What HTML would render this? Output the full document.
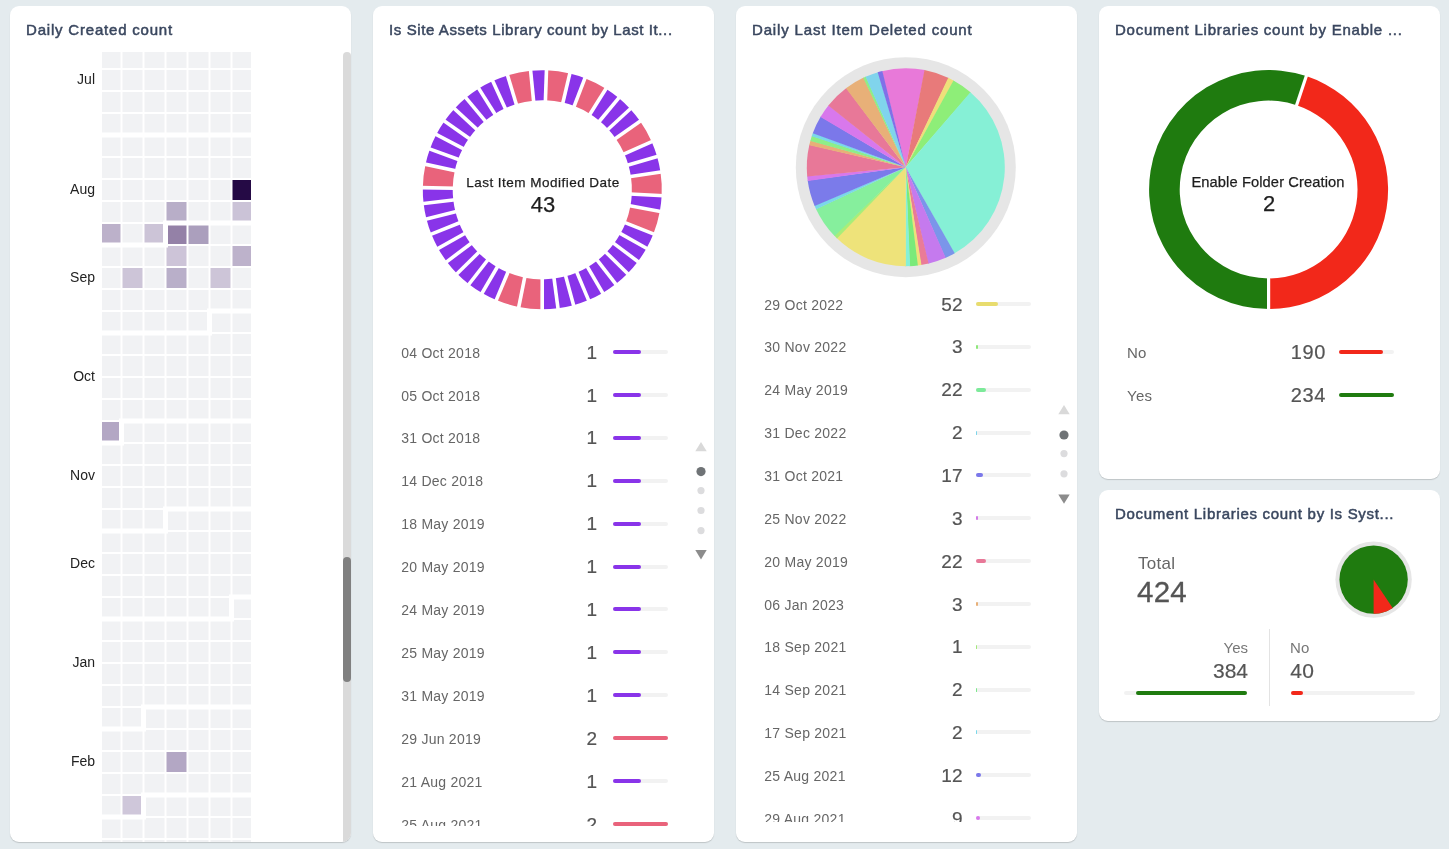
<!DOCTYPE html>
<html><head><meta charset="utf-8"><style>
*{margin:0;padding:0;box-sizing:border-box}
html,body{width:1449px;height:849px;overflow:hidden;background:#e4ebee;font-family:"Liberation Sans",sans-serif}
.abs{position:absolute}
.card{position:absolute;background:#fff;border-radius:9px;box-shadow:0 1px 1px rgba(0,0,0,0.17);overflow:hidden}
.title{position:absolute;font-size:15px;color:#3a475f;white-space:nowrap;line-height:20px;letter-spacing:0.55px;-webkit-text-stroke:0.5px #3a475f}
.clip{position:absolute;overflow:hidden}
.ld{position:absolute;white-space:nowrap;line-height:20px;color:#666;letter-spacing:0.25px}
.ln{position:absolute;width:80px;text-align:right;white-space:nowrap;line-height:24px;color:#555;-webkit-text-stroke:0.2px #555}
.bt{position:absolute;height:4px;border-radius:2px;background:#f2f2f2}
.bf{position:absolute;height:4px;border-radius:2px}
.ml{position:absolute;right:256px;width:60px;text-align:right;font-size:14px;line-height:20px;color:#222}
.ctr{position:absolute;text-align:center;white-space:nowrap;color:#1e1e1e;-webkit-text-stroke:0.25px #1e1e1e}
</style></head><body><div style="position:absolute;left:0;top:0;width:1449px;height:849px;will-change:transform">
<div class="card" style="left:10px;top:6px;width:341px;height:836px">
<div class="title" style="left:16px;top:14px;letter-spacing:0.8px">Daily Created count</div>
<div class="clip" style="left:0;top:46px;width:341px;height:790px">
<svg class="abs" width="341" height="790" viewBox="10 52 341 790" style="left:0;top:0"><rect x="100.5" y="26" width="20" height="20" fill="#f1f2f4"/><rect x="122.5" y="26" width="20" height="20" fill="#f1f2f4"/><rect x="144.5" y="26" width="20" height="20" fill="#f1f2f4"/><rect x="166.5" y="26" width="20" height="20" fill="#f1f2f4"/><rect x="188.5" y="26" width="20" height="20" fill="#f1f2f4"/><rect x="210.5" y="26" width="20" height="20" fill="#f1f2f4"/><rect x="232.5" y="26" width="20" height="20" fill="#f1f2f4"/><rect x="100.5" y="48" width="20" height="20" fill="#f1f2f4"/><rect x="122.5" y="48" width="20" height="20" fill="#f1f2f4"/><rect x="144.5" y="48" width="20" height="20" fill="#f1f2f4"/><rect x="166.5" y="48" width="20" height="20" fill="#f1f2f4"/><rect x="188.5" y="48" width="20" height="20" fill="#f1f2f4"/><rect x="210.5" y="48" width="20" height="20" fill="#f1f2f4"/><rect x="232.5" y="48" width="20" height="20" fill="#f1f2f4"/><rect x="100.5" y="70" width="20" height="20" fill="#f1f2f4"/><rect x="122.5" y="70" width="20" height="20" fill="#f1f2f4"/><rect x="144.5" y="70" width="20" height="20" fill="#f1f2f4"/><rect x="166.5" y="70" width="20" height="20" fill="#f1f2f4"/><rect x="188.5" y="70" width="20" height="20" fill="#f1f2f4"/><rect x="210.5" y="70" width="20" height="20" fill="#f1f2f4"/><rect x="232.5" y="70" width="20" height="20" fill="#f1f2f4"/><rect x="100.5" y="92" width="20" height="20" fill="#f1f2f4"/><rect x="122.5" y="92" width="20" height="20" fill="#f1f2f4"/><rect x="144.5" y="92" width="20" height="20" fill="#f1f2f4"/><rect x="166.5" y="92" width="20" height="20" fill="#f1f2f4"/><rect x="188.5" y="92" width="20" height="20" fill="#f1f2f4"/><rect x="210.5" y="92" width="20" height="20" fill="#f1f2f4"/><rect x="232.5" y="92" width="20" height="20" fill="#f1f2f4"/><rect x="100.5" y="114" width="20" height="20" fill="#f1f2f4"/><rect x="122.5" y="114" width="20" height="20" fill="#f1f2f4"/><rect x="144.5" y="114" width="20" height="20" fill="#f1f2f4"/><rect x="166.5" y="114" width="20" height="20" fill="#f1f2f4"/><rect x="188.5" y="114" width="20" height="20" fill="#f1f2f4"/><rect x="210.5" y="114" width="20" height="20" fill="#f1f2f4"/><rect x="232.5" y="114" width="20" height="20" fill="#f1f2f4"/><rect x="100.5" y="136" width="20" height="20" fill="#f1f2f4"/><rect x="122.5" y="136" width="20" height="20" fill="#f1f2f4"/><rect x="144.5" y="136" width="20" height="20" fill="#f1f2f4"/><rect x="166.5" y="136" width="20" height="20" fill="#f1f2f4"/><rect x="188.5" y="136" width="20" height="20" fill="#f1f2f4"/><rect x="210.5" y="136" width="20" height="20" fill="#f1f2f4"/><rect x="232.5" y="136" width="20" height="20" fill="#f1f2f4"/><rect x="100.5" y="158" width="20" height="20" fill="#f1f2f4"/><rect x="122.5" y="158" width="20" height="20" fill="#f1f2f4"/><rect x="144.5" y="158" width="20" height="20" fill="#f1f2f4"/><rect x="166.5" y="158" width="20" height="20" fill="#f1f2f4"/><rect x="188.5" y="158" width="20" height="20" fill="#f1f2f4"/><rect x="210.5" y="158" width="20" height="20" fill="#f1f2f4"/><rect x="232.5" y="158" width="20" height="20" fill="#f1f2f4"/><rect x="100.5" y="180" width="20" height="20" fill="#f1f2f4"/><rect x="122.5" y="180" width="20" height="20" fill="#f1f2f4"/><rect x="144.5" y="180" width="20" height="20" fill="#f1f2f4"/><rect x="166.5" y="180" width="20" height="20" fill="#f1f2f4"/><rect x="188.5" y="180" width="20" height="20" fill="#f1f2f4"/><rect x="210.5" y="180" width="20" height="20" fill="#f1f2f4"/><rect x="232.5" y="180" width="20" height="20" fill="#250a45"/><rect x="100.5" y="202" width="20" height="20" fill="#f1f2f4"/><rect x="122.5" y="202" width="20" height="20" fill="#f1f2f4"/><rect x="144.5" y="202" width="20" height="20" fill="#f1f2f4"/><rect x="166.5" y="202" width="20" height="20" fill="#b8aec8"/><rect x="188.5" y="202" width="20" height="20" fill="#f1f2f4"/><rect x="210.5" y="202" width="20" height="20" fill="#f1f2f4"/><rect x="232.5" y="202" width="20" height="20" fill="#cbc3d7"/><rect x="100.5" y="224" width="20" height="20" fill="#bcb1ca"/><rect x="122.5" y="224" width="20" height="20" fill="#f1f2f4"/><rect x="144.5" y="224" width="20" height="20" fill="#ccc4d7"/><rect x="166.5" y="224" width="20" height="20" fill="#9481a7"/><rect x="188.5" y="224" width="20" height="20" fill="#ab9fbd"/><rect x="210.5" y="224" width="20" height="20" fill="#f1f2f4"/><rect x="232.5" y="224" width="20" height="20" fill="#f1f2f4"/><rect x="100.5" y="246" width="20" height="20" fill="#f1f2f4"/><rect x="122.5" y="246" width="20" height="20" fill="#f1f2f4"/><rect x="144.5" y="246" width="20" height="20" fill="#f1f2f4"/><rect x="166.5" y="246" width="20" height="20" fill="#cdc4d8"/><rect x="188.5" y="246" width="20" height="20" fill="#f1f2f4"/><rect x="210.5" y="246" width="20" height="20" fill="#f1f2f4"/><rect x="232.5" y="246" width="20" height="20" fill="#bdb2cb"/><rect x="100.5" y="268" width="20" height="20" fill="#f1f2f4"/><rect x="122.5" y="268" width="20" height="20" fill="#cdc5d8"/><rect x="144.5" y="268" width="20" height="20" fill="#f1f2f4"/><rect x="166.5" y="268" width="20" height="20" fill="#b9afc9"/><rect x="188.5" y="268" width="20" height="20" fill="#f1f2f4"/><rect x="210.5" y="268" width="20" height="20" fill="#cdc5d8"/><rect x="232.5" y="268" width="20" height="20" fill="#f1f2f4"/><rect x="100.5" y="290" width="20" height="20" fill="#f1f2f4"/><rect x="122.5" y="290" width="20" height="20" fill="#f1f2f4"/><rect x="144.5" y="290" width="20" height="20" fill="#f1f2f4"/><rect x="166.5" y="290" width="20" height="20" fill="#f1f2f4"/><rect x="188.5" y="290" width="20" height="20" fill="#f1f2f4"/><rect x="210.5" y="290" width="20" height="20" fill="#f1f2f4"/><rect x="232.5" y="290" width="20" height="20" fill="#f1f2f4"/><rect x="100.5" y="312" width="20" height="20" fill="#f1f2f4"/><rect x="122.5" y="312" width="20" height="20" fill="#f1f2f4"/><rect x="144.5" y="312" width="20" height="20" fill="#f1f2f4"/><rect x="166.5" y="312" width="20" height="20" fill="#f1f2f4"/><rect x="188.5" y="312" width="20" height="20" fill="#f1f2f4"/><rect x="210.5" y="312" width="20" height="20" fill="#f1f2f4"/><rect x="232.5" y="312" width="20" height="20" fill="#f1f2f4"/><rect x="100.5" y="334" width="20" height="20" fill="#f1f2f4"/><rect x="122.5" y="334" width="20" height="20" fill="#f1f2f4"/><rect x="144.5" y="334" width="20" height="20" fill="#f1f2f4"/><rect x="166.5" y="334" width="20" height="20" fill="#f1f2f4"/><rect x="188.5" y="334" width="20" height="20" fill="#f1f2f4"/><rect x="210.5" y="334" width="20" height="20" fill="#f1f2f4"/><rect x="232.5" y="334" width="20" height="20" fill="#f1f2f4"/><rect x="100.5" y="356" width="20" height="20" fill="#f1f2f4"/><rect x="122.5" y="356" width="20" height="20" fill="#f1f2f4"/><rect x="144.5" y="356" width="20" height="20" fill="#f1f2f4"/><rect x="166.5" y="356" width="20" height="20" fill="#f1f2f4"/><rect x="188.5" y="356" width="20" height="20" fill="#f1f2f4"/><rect x="210.5" y="356" width="20" height="20" fill="#f1f2f4"/><rect x="232.5" y="356" width="20" height="20" fill="#f1f2f4"/><rect x="100.5" y="378" width="20" height="20" fill="#f1f2f4"/><rect x="122.5" y="378" width="20" height="20" fill="#f1f2f4"/><rect x="144.5" y="378" width="20" height="20" fill="#f1f2f4"/><rect x="166.5" y="378" width="20" height="20" fill="#f1f2f4"/><rect x="188.5" y="378" width="20" height="20" fill="#f1f2f4"/><rect x="210.5" y="378" width="20" height="20" fill="#f1f2f4"/><rect x="232.5" y="378" width="20" height="20" fill="#f1f2f4"/><rect x="100.5" y="400" width="20" height="20" fill="#f1f2f4"/><rect x="122.5" y="400" width="20" height="20" fill="#f1f2f4"/><rect x="144.5" y="400" width="20" height="20" fill="#f1f2f4"/><rect x="166.5" y="400" width="20" height="20" fill="#f1f2f4"/><rect x="188.5" y="400" width="20" height="20" fill="#f1f2f4"/><rect x="210.5" y="400" width="20" height="20" fill="#f1f2f4"/><rect x="232.5" y="400" width="20" height="20" fill="#f1f2f4"/><rect x="100.5" y="422" width="20" height="20" fill="#b3a7c4"/><rect x="122.5" y="422" width="20" height="20" fill="#f1f2f4"/><rect x="144.5" y="422" width="20" height="20" fill="#f1f2f4"/><rect x="166.5" y="422" width="20" height="20" fill="#f1f2f4"/><rect x="188.5" y="422" width="20" height="20" fill="#f1f2f4"/><rect x="210.5" y="422" width="20" height="20" fill="#f1f2f4"/><rect x="232.5" y="422" width="20" height="20" fill="#f1f2f4"/><rect x="100.5" y="444" width="20" height="20" fill="#f1f2f4"/><rect x="122.5" y="444" width="20" height="20" fill="#f1f2f4"/><rect x="144.5" y="444" width="20" height="20" fill="#f1f2f4"/><rect x="166.5" y="444" width="20" height="20" fill="#f1f2f4"/><rect x="188.5" y="444" width="20" height="20" fill="#f1f2f4"/><rect x="210.5" y="444" width="20" height="20" fill="#f1f2f4"/><rect x="232.5" y="444" width="20" height="20" fill="#f1f2f4"/><rect x="100.5" y="466" width="20" height="20" fill="#f1f2f4"/><rect x="122.5" y="466" width="20" height="20" fill="#f1f2f4"/><rect x="144.5" y="466" width="20" height="20" fill="#f1f2f4"/><rect x="166.5" y="466" width="20" height="20" fill="#f1f2f4"/><rect x="188.5" y="466" width="20" height="20" fill="#f1f2f4"/><rect x="210.5" y="466" width="20" height="20" fill="#f1f2f4"/><rect x="232.5" y="466" width="20" height="20" fill="#f1f2f4"/><rect x="100.5" y="488" width="20" height="20" fill="#f1f2f4"/><rect x="122.5" y="488" width="20" height="20" fill="#f1f2f4"/><rect x="144.5" y="488" width="20" height="20" fill="#f1f2f4"/><rect x="166.5" y="488" width="20" height="20" fill="#f1f2f4"/><rect x="188.5" y="488" width="20" height="20" fill="#f1f2f4"/><rect x="210.5" y="488" width="20" height="20" fill="#f1f2f4"/><rect x="232.5" y="488" width="20" height="20" fill="#f1f2f4"/><rect x="100.5" y="510" width="20" height="20" fill="#f1f2f4"/><rect x="122.5" y="510" width="20" height="20" fill="#f1f2f4"/><rect x="144.5" y="510" width="20" height="20" fill="#f1f2f4"/><rect x="166.5" y="510" width="20" height="20" fill="#f1f2f4"/><rect x="188.5" y="510" width="20" height="20" fill="#f1f2f4"/><rect x="210.5" y="510" width="20" height="20" fill="#f1f2f4"/><rect x="232.5" y="510" width="20" height="20" fill="#f1f2f4"/><rect x="100.5" y="532" width="20" height="20" fill="#f1f2f4"/><rect x="122.5" y="532" width="20" height="20" fill="#f1f2f4"/><rect x="144.5" y="532" width="20" height="20" fill="#f1f2f4"/><rect x="166.5" y="532" width="20" height="20" fill="#f1f2f4"/><rect x="188.5" y="532" width="20" height="20" fill="#f1f2f4"/><rect x="210.5" y="532" width="20" height="20" fill="#f1f2f4"/><rect x="232.5" y="532" width="20" height="20" fill="#f1f2f4"/><rect x="100.5" y="554" width="20" height="20" fill="#f1f2f4"/><rect x="122.5" y="554" width="20" height="20" fill="#f1f2f4"/><rect x="144.5" y="554" width="20" height="20" fill="#f1f2f4"/><rect x="166.5" y="554" width="20" height="20" fill="#f1f2f4"/><rect x="188.5" y="554" width="20" height="20" fill="#f1f2f4"/><rect x="210.5" y="554" width="20" height="20" fill="#f1f2f4"/><rect x="232.5" y="554" width="20" height="20" fill="#f1f2f4"/><rect x="100.5" y="576" width="20" height="20" fill="#f1f2f4"/><rect x="122.5" y="576" width="20" height="20" fill="#f1f2f4"/><rect x="144.5" y="576" width="20" height="20" fill="#f1f2f4"/><rect x="166.5" y="576" width="20" height="20" fill="#f1f2f4"/><rect x="188.5" y="576" width="20" height="20" fill="#f1f2f4"/><rect x="210.5" y="576" width="20" height="20" fill="#f1f2f4"/><rect x="232.5" y="576" width="20" height="20" fill="#f1f2f4"/><rect x="100.5" y="598" width="20" height="20" fill="#f1f2f4"/><rect x="122.5" y="598" width="20" height="20" fill="#f1f2f4"/><rect x="144.5" y="598" width="20" height="20" fill="#f1f2f4"/><rect x="166.5" y="598" width="20" height="20" fill="#f1f2f4"/><rect x="188.5" y="598" width="20" height="20" fill="#f1f2f4"/><rect x="210.5" y="598" width="20" height="20" fill="#f1f2f4"/><rect x="232.5" y="598" width="20" height="20" fill="#f1f2f4"/><rect x="100.5" y="620" width="20" height="20" fill="#f1f2f4"/><rect x="122.5" y="620" width="20" height="20" fill="#f1f2f4"/><rect x="144.5" y="620" width="20" height="20" fill="#f1f2f4"/><rect x="166.5" y="620" width="20" height="20" fill="#f1f2f4"/><rect x="188.5" y="620" width="20" height="20" fill="#f1f2f4"/><rect x="210.5" y="620" width="20" height="20" fill="#f1f2f4"/><rect x="232.5" y="620" width="20" height="20" fill="#f1f2f4"/><rect x="100.5" y="642" width="20" height="20" fill="#f1f2f4"/><rect x="122.5" y="642" width="20" height="20" fill="#f1f2f4"/><rect x="144.5" y="642" width="20" height="20" fill="#f1f2f4"/><rect x="166.5" y="642" width="20" height="20" fill="#f1f2f4"/><rect x="188.5" y="642" width="20" height="20" fill="#f1f2f4"/><rect x="210.5" y="642" width="20" height="20" fill="#f1f2f4"/><rect x="232.5" y="642" width="20" height="20" fill="#f1f2f4"/><rect x="100.5" y="664" width="20" height="20" fill="#f1f2f4"/><rect x="122.5" y="664" width="20" height="20" fill="#f1f2f4"/><rect x="144.5" y="664" width="20" height="20" fill="#f1f2f4"/><rect x="166.5" y="664" width="20" height="20" fill="#f1f2f4"/><rect x="188.5" y="664" width="20" height="20" fill="#f1f2f4"/><rect x="210.5" y="664" width="20" height="20" fill="#f1f2f4"/><rect x="232.5" y="664" width="20" height="20" fill="#f1f2f4"/><rect x="100.5" y="686" width="20" height="20" fill="#f1f2f4"/><rect x="122.5" y="686" width="20" height="20" fill="#f1f2f4"/><rect x="144.5" y="686" width="20" height="20" fill="#f1f2f4"/><rect x="166.5" y="686" width="20" height="20" fill="#f1f2f4"/><rect x="188.5" y="686" width="20" height="20" fill="#f1f2f4"/><rect x="210.5" y="686" width="20" height="20" fill="#f1f2f4"/><rect x="232.5" y="686" width="20" height="20" fill="#f1f2f4"/><rect x="100.5" y="708" width="20" height="20" fill="#f1f2f4"/><rect x="122.5" y="708" width="20" height="20" fill="#f1f2f4"/><rect x="144.5" y="708" width="20" height="20" fill="#f1f2f4"/><rect x="166.5" y="708" width="20" height="20" fill="#f1f2f4"/><rect x="188.5" y="708" width="20" height="20" fill="#f1f2f4"/><rect x="210.5" y="708" width="20" height="20" fill="#f1f2f4"/><rect x="232.5" y="708" width="20" height="20" fill="#f1f2f4"/><rect x="100.5" y="730" width="20" height="20" fill="#f1f2f4"/><rect x="122.5" y="730" width="20" height="20" fill="#f1f2f4"/><rect x="144.5" y="730" width="20" height="20" fill="#f1f2f4"/><rect x="166.5" y="730" width="20" height="20" fill="#f1f2f4"/><rect x="188.5" y="730" width="20" height="20" fill="#f1f2f4"/><rect x="210.5" y="730" width="20" height="20" fill="#f1f2f4"/><rect x="232.5" y="730" width="20" height="20" fill="#f1f2f4"/><rect x="100.5" y="752" width="20" height="20" fill="#f1f2f4"/><rect x="122.5" y="752" width="20" height="20" fill="#f1f2f4"/><rect x="144.5" y="752" width="20" height="20" fill="#f1f2f4"/><rect x="166.5" y="752" width="20" height="20" fill="#b3a7c4"/><rect x="188.5" y="752" width="20" height="20" fill="#f1f2f4"/><rect x="210.5" y="752" width="20" height="20" fill="#f1f2f4"/><rect x="232.5" y="752" width="20" height="20" fill="#f1f2f4"/><rect x="100.5" y="774" width="20" height="20" fill="#f1f2f4"/><rect x="122.5" y="774" width="20" height="20" fill="#f1f2f4"/><rect x="144.5" y="774" width="20" height="20" fill="#f1f2f4"/><rect x="166.5" y="774" width="20" height="20" fill="#f1f2f4"/><rect x="188.5" y="774" width="20" height="20" fill="#f1f2f4"/><rect x="210.5" y="774" width="20" height="20" fill="#f1f2f4"/><rect x="232.5" y="774" width="20" height="20" fill="#f1f2f4"/><rect x="100.5" y="796" width="20" height="20" fill="#f1f2f4"/><rect x="122.5" y="796" width="20" height="20" fill="#cfc7da"/><rect x="144.5" y="796" width="20" height="20" fill="#f1f2f4"/><rect x="166.5" y="796" width="20" height="20" fill="#f1f2f4"/><rect x="188.5" y="796" width="20" height="20" fill="#f1f2f4"/><rect x="210.5" y="796" width="20" height="20" fill="#f1f2f4"/><rect x="232.5" y="796" width="20" height="20" fill="#f1f2f4"/><rect x="100.5" y="818" width="20" height="20" fill="#f1f2f4"/><rect x="122.5" y="818" width="20" height="20" fill="#f1f2f4"/><rect x="144.5" y="818" width="20" height="20" fill="#f1f2f4"/><rect x="166.5" y="818" width="20" height="20" fill="#f1f2f4"/><rect x="188.5" y="818" width="20" height="20" fill="#f1f2f4"/><rect x="210.5" y="818" width="20" height="20" fill="#f1f2f4"/><rect x="232.5" y="818" width="20" height="20" fill="#f1f2f4"/><rect x="100.5" y="840" width="20" height="20" fill="#f1f2f4"/><rect x="122.5" y="840" width="20" height="20" fill="#f1f2f4"/><rect x="144.5" y="840" width="20" height="20" fill="#f1f2f4"/><rect x="166.5" y="840" width="20" height="20" fill="#f1f2f4"/><rect x="188.5" y="840" width="20" height="20" fill="#f1f2f4"/><rect x="210.5" y="840" width="20" height="20" fill="#f1f2f4"/><rect x="232.5" y="840" width="20" height="20" fill="#f1f2f4"/><path d="M99.5 0V842M253.5 0V842M99.5 135H253.5M99.5 245H165.5V223H253.5M99.5 333H209.5V311H253.5M99.5 443H121.5V421H253.5M99.5 531H165.5V509H253.5M99.5 619H231.5V597H253.5M99.5 729H143.5V707H253.5M99.5 817H143.5V795H253.5" stroke="#fff" stroke-width="5" fill="none" stroke-linejoin="miter"/></svg><div class="ml" style="top:17px">Jul</div><div class="ml" style="top:127px">Aug</div><div class="ml" style="top:215px">Sep</div><div class="ml" style="top:314px">Oct</div><div class="ml" style="top:413px">Nov</div><div class="ml" style="top:501px">Dec</div><div class="ml" style="top:600px">Jan</div><div class="ml" style="top:699px">Feb</div>
</div>
<div class="abs" style="left:333px;top:46px;width:8px;height:800px;background:#dadada;border-radius:4px"></div>
<div class="abs" style="left:333px;top:551px;width:8px;height:125px;background:#808080;border-radius:4px"></div>
</div>
<div class="card" style="left:373px;top:6px;width:341px;height:836px">
<div class="title" style="left:16px;top:14px;letter-spacing:0.6px">Is Site Assets Library count by Last It...</div>
</div>
<div class="card" style="left:736px;top:6px;width:341px;height:836px">
<div class="title" style="left:16px;top:14px;letter-spacing:0.85px">Daily Last Item Deleted count</div>
</div>
<div class="card" style="left:1099px;top:6px;width:341px;height:473px">
<div class="title" style="left:16px;top:14px;letter-spacing:0.77px">Document Libraries count by Enable ...</div>
</div>
<div class="card" style="left:1099px;top:490px;width:341px;height:231px">
<div class="title" style="left:16px;top:14px;letter-spacing:0.7px">Document Libraries count by Is Syst...</div>
</div>
<svg class="abs" width="1449" height="849" style="left:0;top:0"><path d="M546.47 70.37A119.5 119.5 0 0 1 569.79 73.5L562.91 102.6A89.6 89.6 0 0 0 545.43 100.25Z" fill="#e9637b"/><path d="M569.79 73.5A119.5 119.5 0 0 1 584.92 78.16L574.26 106.09A89.6 89.6 0 0 0 562.91 102.6Z" fill="#8934e9"/><path d="M584.92 78.16A119.5 119.5 0 0 1 605.97 88.67L590.04 113.98A89.6 89.6 0 0 0 574.26 106.09Z" fill="#e9637b"/><path d="M605.97 88.67A119.5 119.5 0 0 1 618.78 97.98L599.64 120.95A89.6 89.6 0 0 0 590.04 113.98Z" fill="#8934e9"/><path d="M618.78 97.98A119.5 119.5 0 0 1 630.25 108.9L608.24 129.14A89.6 89.6 0 0 0 599.64 120.95Z" fill="#8934e9"/><path d="M630.25 108.9A119.5 119.5 0 0 1 640.17 121.23L615.68 138.39A89.6 89.6 0 0 0 608.24 129.14Z" fill="#8934e9"/><path d="M640.17 121.23A119.5 119.5 0 0 1 651.71 141.74L624.33 153.76A89.6 89.6 0 0 0 615.68 138.39Z" fill="#e9637b"/><path d="M651.71 141.74A119.5 119.5 0 0 1 657.1 156.62L628.38 164.92A89.6 89.6 0 0 0 624.33 153.76Z" fill="#8934e9"/><path d="M657.1 156.62A119.5 119.5 0 0 1 660.48 172.09L630.91 176.52A89.6 89.6 0 0 0 628.38 164.92Z" fill="#8934e9"/><path d="M660.48 172.09A119.5 119.5 0 0 1 661.66 195.59L631.79 194.14A89.6 89.6 0 0 0 630.91 176.52Z" fill="#e9637b"/><path d="M661.66 195.59A119.5 119.5 0 0 1 659.85 211.32L630.44 205.94A89.6 89.6 0 0 0 631.79 194.14Z" fill="#8934e9"/><path d="M659.85 211.32A119.5 119.5 0 0 1 653.35 233.93L625.57 222.89A89.6 89.6 0 0 0 630.44 205.94Z" fill="#e9637b"/><path d="M653.35 233.93A119.5 119.5 0 0 1 646.54 248.23L620.46 233.61A89.6 89.6 0 0 0 625.57 222.89Z" fill="#8934e9"/><path d="M646.54 248.23A119.5 119.5 0 0 1 637.9 261.5L613.98 243.56A89.6 89.6 0 0 0 620.46 233.61Z" fill="#8934e9"/><path d="M637.9 261.5A119.5 119.5 0 0 1 627.58 273.51L606.25 252.56A89.6 89.6 0 0 0 613.98 243.56Z" fill="#8934e9"/><path d="M627.58 273.51A119.5 119.5 0 0 1 615.77 284.05L597.39 260.47A89.6 89.6 0 0 0 606.25 252.56Z" fill="#8934e9"/><path d="M615.77 284.05A119.5 119.5 0 0 1 602.66 292.93L587.56 267.13A89.6 89.6 0 0 0 597.39 260.47Z" fill="#8934e9"/><path d="M602.66 292.93A119.5 119.5 0 0 1 588.5 300.01L576.94 272.43A89.6 89.6 0 0 0 587.56 267.13Z" fill="#8934e9"/><path d="M588.5 300.01A119.5 119.5 0 0 1 573.52 305.15L565.71 276.29A89.6 89.6 0 0 0 576.94 272.43Z" fill="#8934e9"/><path d="M573.52 305.15A119.5 119.5 0 0 1 557.99 308.26L554.07 278.62A89.6 89.6 0 0 0 565.71 276.29Z" fill="#8934e9"/><path d="M557.99 308.26A119.5 119.5 0 0 1 542.19 309.3L542.22 279.4A89.6 89.6 0 0 0 554.07 278.62Z" fill="#8934e9"/><path d="M542.19 309.3A119.5 119.5 0 0 1 518.78 306.96L524.67 277.65A89.6 89.6 0 0 0 542.22 279.4Z" fill="#e9637b"/><path d="M518.78 306.96A119.5 119.5 0 0 1 496.29 300.09L507.8 272.49A89.6 89.6 0 0 0 524.67 277.65Z" fill="#e9637b"/><path d="M496.29 300.09A119.5 119.5 0 0 1 482.11 293.03L497.17 267.2A89.6 89.6 0 0 0 507.8 272.49Z" fill="#8934e9"/><path d="M482.11 293.03A119.5 119.5 0 0 1 468.99 284.17L487.33 260.56A89.6 89.6 0 0 0 497.17 267.2Z" fill="#8934e9"/><path d="M468.99 284.17A119.5 119.5 0 0 1 457.15 273.65L478.46 252.67A89.6 89.6 0 0 0 487.33 260.56Z" fill="#8934e9"/><path d="M457.15 273.65A119.5 119.5 0 0 1 446.82 261.65L470.71 243.68A89.6 89.6 0 0 0 478.46 252.67Z" fill="#8934e9"/><path d="M446.82 261.65A119.5 119.5 0 0 1 438.15 248.4L464.21 233.74A89.6 89.6 0 0 0 470.71 243.68Z" fill="#8934e9"/><path d="M438.15 248.4A119.5 119.5 0 0 1 431.32 234.12L459.09 223.03A89.6 89.6 0 0 0 464.21 233.74Z" fill="#8934e9"/><path d="M431.32 234.12A119.5 119.5 0 0 1 426.44 219.05L455.43 211.73A89.6 89.6 0 0 0 459.09 223.03Z" fill="#8934e9"/><path d="M426.44 219.05A119.5 119.5 0 0 1 423.59 203.48L453.29 200.05A89.6 89.6 0 0 0 455.43 211.73Z" fill="#8934e9"/><path d="M423.59 203.48A119.5 119.5 0 0 1 422.82 187.66L452.71 188.2A89.6 89.6 0 0 0 453.29 200.05Z" fill="#8934e9"/><path d="M422.82 187.66A119.5 119.5 0 0 1 425.55 164.3L454.76 170.68A89.6 89.6 0 0 0 452.71 188.2Z" fill="#e9637b"/><path d="M425.55 164.3A119.5 119.5 0 0 1 429.95 149.08L458.06 159.27A89.6 89.6 0 0 0 454.76 170.68Z" fill="#8934e9"/><path d="M429.95 149.08A119.5 119.5 0 0 1 436.32 134.59L462.84 148.4A89.6 89.6 0 0 0 458.06 159.27Z" fill="#8934e9"/><path d="M436.32 134.59A119.5 119.5 0 0 1 444.55 121.06L469.01 138.26A89.6 89.6 0 0 0 462.84 148.4Z" fill="#8934e9"/><path d="M444.55 121.06A119.5 119.5 0 0 1 454.5 108.74L476.47 129.02A89.6 89.6 0 0 0 469.01 138.26Z" fill="#8934e9"/><path d="M454.5 108.74A119.5 119.5 0 0 1 465.99 97.84L485.08 120.85A89.6 89.6 0 0 0 476.47 129.02Z" fill="#8934e9"/><path d="M465.99 97.84A119.5 119.5 0 0 1 478.81 88.56L494.7 113.89A89.6 89.6 0 0 0 485.08 120.85Z" fill="#8934e9"/><path d="M478.81 88.56A119.5 119.5 0 0 1 492.76 81.05L505.15 108.26A89.6 89.6 0 0 0 494.7 113.89Z" fill="#8934e9"/><path d="M492.76 81.05A119.5 119.5 0 0 1 507.57 75.46L516.26 104.07A89.6 89.6 0 0 0 505.15 108.26Z" fill="#8934e9"/><path d="M507.57 75.46A119.5 119.5 0 0 1 530.64 70.87L533.56 100.63A89.6 89.6 0 0 0 516.26 104.07Z" fill="#e9637b"/><path d="M530.64 70.87A119.5 119.5 0 0 1 546.47 70.37L545.43 100.25A89.6 89.6 0 0 0 533.56 100.63Z" fill="#8934e9"/><line x1="545.36" y1="102.25" x2="546.54" y2="68.37" stroke="#fff" stroke-width="3.6"/><line x1="562.45" y1="104.55" x2="570.25" y2="71.56" stroke="#fff" stroke-width="3.6"/><line x1="573.54" y1="107.96" x2="585.63" y2="76.29" stroke="#fff" stroke-width="3.6"/><line x1="588.97" y1="115.67" x2="607.03" y2="86.98" stroke="#fff" stroke-width="3.6"/><line x1="598.36" y1="122.49" x2="620.06" y2="96.44" stroke="#fff" stroke-width="3.6"/><line x1="606.77" y1="130.49" x2="631.72" y2="107.54" stroke="#fff" stroke-width="3.6"/><line x1="614.05" y1="139.54" x2="641.81" y2="120.09" stroke="#fff" stroke-width="3.6"/><line x1="622.5" y1="154.57" x2="653.54" y2="140.93" stroke="#fff" stroke-width="3.6"/><line x1="626.46" y1="165.48" x2="659.02" y2="156.07" stroke="#fff" stroke-width="3.6"/><line x1="628.93" y1="176.82" x2="662.46" y2="171.8" stroke="#fff" stroke-width="3.6"/><line x1="629.8" y1="194.04" x2="663.66" y2="195.69" stroke="#fff" stroke-width="3.6"/><line x1="628.47" y1="205.58" x2="661.81" y2="211.68" stroke="#fff" stroke-width="3.6"/><line x1="623.71" y1="222.15" x2="655.21" y2="234.67" stroke="#fff" stroke-width="3.6"/><line x1="618.72" y1="232.63" x2="648.29" y2="249.2" stroke="#fff" stroke-width="3.6"/><line x1="612.38" y1="242.36" x2="639.5" y2="262.7" stroke="#fff" stroke-width="3.6"/><line x1="604.82" y1="251.16" x2="629.01" y2="274.91" stroke="#fff" stroke-width="3.6"/><line x1="596.16" y1="258.89" x2="617" y2="285.63" stroke="#fff" stroke-width="3.6"/><line x1="586.55" y1="265.4" x2="603.67" y2="294.66" stroke="#fff" stroke-width="3.6"/><line x1="576.16" y1="270.59" x2="589.27" y2="301.85" stroke="#fff" stroke-width="3.6"/><line x1="565.19" y1="274.36" x2="574.04" y2="307.08" stroke="#fff" stroke-width="3.6"/><line x1="553.8" y1="276.64" x2="558.26" y2="310.25" stroke="#fff" stroke-width="3.6"/><line x1="542.22" y1="277.4" x2="542.19" y2="311.3" stroke="#fff" stroke-width="3.6"/><line x1="525.06" y1="275.69" x2="518.39" y2="308.92" stroke="#fff" stroke-width="3.6"/><line x1="508.57" y1="270.65" x2="495.52" y2="301.93" stroke="#fff" stroke-width="3.6"/><line x1="498.18" y1="265.48" x2="481.1" y2="294.76" stroke="#fff" stroke-width="3.6"/><line x1="488.56" y1="258.98" x2="467.76" y2="285.75" stroke="#fff" stroke-width="3.6"/><line x1="479.88" y1="251.27" x2="455.73" y2="275.05" stroke="#fff" stroke-width="3.6"/><line x1="472.31" y1="242.47" x2="445.22" y2="262.86" stroke="#fff" stroke-width="3.6"/><line x1="465.96" y1="232.76" x2="436.41" y2="249.38" stroke="#fff" stroke-width="3.6"/><line x1="460.95" y1="222.29" x2="429.46" y2="234.86" stroke="#fff" stroke-width="3.6"/><line x1="457.37" y1="211.24" x2="424.5" y2="219.54" stroke="#fff" stroke-width="3.6"/><line x1="455.28" y1="199.83" x2="421.6" y2="203.71" stroke="#fff" stroke-width="3.6"/><line x1="454.71" y1="188.23" x2="420.82" y2="187.63" stroke="#fff" stroke-width="3.6"/><line x1="456.72" y1="171.1" x2="423.6" y2="163.87" stroke="#fff" stroke-width="3.6"/><line x1="459.94" y1="159.95" x2="428.07" y2="148.4" stroke="#fff" stroke-width="3.6"/><line x1="464.61" y1="149.33" x2="434.55" y2="133.66" stroke="#fff" stroke-width="3.6"/><line x1="470.64" y1="139.41" x2="442.91" y2="119.91" stroke="#fff" stroke-width="3.6"/><line x1="477.94" y1="130.38" x2="453.03" y2="107.38" stroke="#fff" stroke-width="3.6"/><line x1="486.36" y1="122.39" x2="464.71" y2="96.3" stroke="#fff" stroke-width="3.6"/><line x1="495.76" y1="115.58" x2="477.75" y2="86.86" stroke="#fff" stroke-width="3.6"/><line x1="505.98" y1="110.08" x2="491.93" y2="79.23" stroke="#fff" stroke-width="3.6"/><line x1="516.84" y1="105.98" x2="506.99" y2="73.54" stroke="#fff" stroke-width="3.6"/><line x1="533.76" y1="102.62" x2="530.45" y2="68.88" stroke="#fff" stroke-width="3.6"/><circle cx="905.8" cy="167.2" r="110" fill="#e6e6e6"/><path d="M905.8 167.2L881.85 71.14A99 99 0 0 1 925.03 70.09Z" fill="#e879d9"/><path d="M905.8 167.2L924.52 69.99A99 99 0 0 1 948.73 77.99Z" fill="#e87a7a"/><path d="M905.8 167.2L948.26 77.77A99 99 0 0 1 953.95 80.7Z" fill="#eee07a"/><path d="M905.8 167.2L953.49 80.45A99 99 0 0 1 970.82 92.54Z" fill="#8eee78"/><path d="M905.8 167.2L970.42 92.2A99 99 0 0 1 954.25 253.53Z" fill="#86f0d6"/><path d="M905.8 167.2L954.7 253.28A99 99 0 0 1 945.28 257.99Z" fill="#7b95ea"/><path d="M905.8 167.2L945.75 257.78A99 99 0 0 1 928.07 263.66Z" fill="#c57aee"/><path d="M905.8 167.2L928.57 263.54A99 99 0 0 1 920.95 265.03Z" fill="#ea7b98"/><path d="M905.8 167.2L921.46 264.95A99 99 0 0 1 917.35 265.52Z" fill="#eee07a"/><path d="M905.8 167.2L917.87 265.46A99 99 0 0 1 909.6 266.13Z" fill="#7aea7a"/><path d="M905.8 167.2L910.12 266.11A99 99 0 0 1 905.28 266.2Z" fill="#86f0d6"/><path d="M905.8 167.2L905.8 266.2A99 99 0 0 1 836.66 238.05Z" fill="#eee37a"/><path d="M905.8 167.2L837.03 238.41A99 99 0 0 1 834.23 235.6Z" fill="#a8ee78"/><path d="M905.8 167.2L834.59 235.97A99 99 0 0 1 816 208.88Z" fill="#86ef9d"/><path d="M905.8 167.2L816.22 209.35A99 99 0 0 1 814.47 205.4Z" fill="#7bd7ea"/><path d="M905.8 167.2L814.67 205.88A99 99 0 0 1 807.69 180.46Z" fill="#7b7bea"/><path d="M905.8 167.2L807.76 180.98A99 99 0 0 1 807.19 176Z" fill="#d878ec"/><path d="M905.8 167.2L807.24 176.52A99 99 0 0 1 809.38 144.76Z" fill="#e87898"/><path d="M905.8 167.2L809.26 145.27A99 99 0 0 1 810.49 140.41Z" fill="#e8b078"/><path d="M905.8 167.2L810.35 140.91A99 99 0 0 1 811.92 135.79Z" fill="#8eee88"/><path d="M905.8 167.2L811.75 136.28A99 99 0 0 1 812.95 132.85Z" fill="#7bd7ea"/><path d="M905.8 167.2L812.77 133.34A99 99 0 0 1 820.76 116.51Z" fill="#7b78ea"/><path d="M905.8 167.2L820.5 116.95A99 99 0 0 1 828.65 105.17Z" fill="#d878ec"/><path d="M905.8 167.2L828.32 105.57A99 99 0 0 1 846.36 88.03Z" fill="#e87898"/><path d="M905.8 167.2L845.94 88.34A99 99 0 0 1 863.65 77.62Z" fill="#e8b078"/><path d="M905.8 167.2L863.18 77.84A99 99 0 0 1 866.01 76.55Z" fill="#8eee88"/><path d="M905.8 167.2L865.53 76.76A99 99 0 0 1 878.18 72.13Z" fill="#80d4ec"/><path d="M905.8 167.2L877.68 72.28A99 99 0 0 1 882.35 71.02Z" fill="#8070e8"/><path d="M1306.28 76.1A119.5 119.5 0 0 1 1268.6 309L1268.6 278.4A88.9 88.9 0 0 0 1296.63 105.13Z" fill="#f2281a"/><path d="M1268.6 309A119.5 119.5 0 1 1 1306.28 76.1L1296.63 105.13A88.9 88.9 0 1 0 1268.6 278.4Z" fill="#1f7b0f"/><line x1="1268.6" y1="276.4" x2="1268.6" y2="311" stroke="#fff" stroke-width="3.2"/><line x1="1296" y1="107.03" x2="1306.91" y2="74.2" stroke="#fff" stroke-width="3.2"/><circle cx="1373.6" cy="579.6" r="38.2" fill="#e6e6e6"/><circle cx="1373.6" cy="579.6" r="34.2" fill="#1f7b0f"/><path d="M1373.6 579.6L1392.71 607.97A34.2 34.2 0 0 1 1373.6 613.8Z" fill="#f2281a"/></svg>
<div class="ctr" style="left:443px;top:173px;width:200px;font-size:13.5px;line-height:20px;letter-spacing:0.48px">Last Item Modified Date</div>
<div class="ctr" style="left:443px;top:193px;width:200px;font-size:22px;line-height:24px">43</div>
<div class="ctr" style="left:1168px;top:172px;width:200px;font-size:14.7px;line-height:20px;letter-spacing:0.1px">Enable Folder Creation</div>
<div class="ctr" style="left:1169px;top:192px;width:200px;font-size:22px;line-height:24px">2</div>
<div class="clip" style="left:380px;top:330px;width:310px;height:496px"><div class="ld" style="left:21.2px;top:12.6px;font-size:14px">04 Oct 2018</div><div class="ln" style="left:137px;top:10.6px;font-size:19px">1</div><div class="bt" style="left:233px;top:20px;width:55px"></div><div class="bf" style="left:233px;top:20px;width:28px;background:#8934e9"></div><div class="ld" style="left:21.2px;top:55.5px;font-size:14px">05 Oct 2018</div><div class="ln" style="left:137px;top:53.5px;font-size:19px">1</div><div class="bt" style="left:233px;top:63px;width:55px"></div><div class="bf" style="left:233px;top:63px;width:28px;background:#8934e9"></div><div class="ld" style="left:21.2px;top:98.4px;font-size:14px">31 Oct 2018</div><div class="ln" style="left:137px;top:96.4px;font-size:19px">1</div><div class="bt" style="left:233px;top:106px;width:55px"></div><div class="bf" style="left:233px;top:106px;width:28px;background:#8934e9"></div><div class="ld" style="left:21.2px;top:141.3px;font-size:14px">14 Dec 2018</div><div class="ln" style="left:137px;top:139.3px;font-size:19px">1</div><div class="bt" style="left:233px;top:149px;width:55px"></div><div class="bf" style="left:233px;top:149px;width:28px;background:#8934e9"></div><div class="ld" style="left:21.2px;top:184.2px;font-size:14px">18 May 2019</div><div class="ln" style="left:137px;top:182.2px;font-size:19px">1</div><div class="bt" style="left:233px;top:192px;width:55px"></div><div class="bf" style="left:233px;top:192px;width:28px;background:#8934e9"></div><div class="ld" style="left:21.2px;top:227.1px;font-size:14px">20 May 2019</div><div class="ln" style="left:137px;top:225.1px;font-size:19px">1</div><div class="bt" style="left:233px;top:235px;width:55px"></div><div class="bf" style="left:233px;top:235px;width:28px;background:#8934e9"></div><div class="ld" style="left:21.2px;top:270px;font-size:14px">24 May 2019</div><div class="ln" style="left:137px;top:268px;font-size:19px">1</div><div class="bt" style="left:233px;top:277px;width:55px"></div><div class="bf" style="left:233px;top:277px;width:28px;background:#8934e9"></div><div class="ld" style="left:21.2px;top:312.9px;font-size:14px">25 May 2019</div><div class="ln" style="left:137px;top:310.9px;font-size:19px">1</div><div class="bt" style="left:233px;top:320px;width:55px"></div><div class="bf" style="left:233px;top:320px;width:28px;background:#8934e9"></div><div class="ld" style="left:21.2px;top:355.8px;font-size:14px">31 May 2019</div><div class="ln" style="left:137px;top:353.8px;font-size:19px">1</div><div class="bt" style="left:233px;top:363px;width:55px"></div><div class="bf" style="left:233px;top:363px;width:28px;background:#8934e9"></div><div class="ld" style="left:21.2px;top:398.7px;font-size:14px">29 Jun 2019</div><div class="ln" style="left:137px;top:396.7px;font-size:19px">2</div><div class="bt" style="left:233px;top:406px;width:55px"></div><div class="bf" style="left:233px;top:406px;width:54.5px;background:#e9637b"></div><div class="ld" style="left:21.2px;top:441.6px;font-size:14px">21 Aug 2021</div><div class="ln" style="left:137px;top:439.6px;font-size:19px">1</div><div class="bt" style="left:233px;top:449px;width:55px"></div><div class="bf" style="left:233px;top:449px;width:28px;background:#8934e9"></div><div class="ld" style="left:21.2px;top:484.5px;font-size:14px">25 Aug 2021</div><div class="ln" style="left:137px;top:482.5px;font-size:19px">2</div><div class="bt" style="left:233px;top:492px;width:55px"></div><div class="bf" style="left:233px;top:492px;width:54.5px;background:#e9637b"></div></div><div class="clip" style="left:745px;top:280px;width:305px;height:542px"><div class="ld" style="left:19.3px;top:14.6px;font-size:14px">29 Oct 2022</div><div class="ln" style="left:137.5px;top:12.6px;font-size:19px">52</div><div class="bt" style="left:231px;top:22px;width:55px"></div><div class="bf" style="left:231px;top:22px;width:22px;background:#e8dc6e"></div><div class="ld" style="left:19.3px;top:57.45px;font-size:14px">30 Nov 2022</div><div class="ln" style="left:137.5px;top:55.45px;font-size:19px">3</div><div class="bt" style="left:231px;top:65px;width:55px"></div><div class="bf" style="left:231px;top:65px;width:1.5px;background:#8ee87a"></div><div class="ld" style="left:19.3px;top:100.3px;font-size:14px">24 May 2019</div><div class="ln" style="left:137.5px;top:98.3px;font-size:19px">22</div><div class="bt" style="left:231px;top:108px;width:55px"></div><div class="bf" style="left:231px;top:108px;width:9.5px;background:#7dea9a"></div><div class="ld" style="left:19.3px;top:143.15px;font-size:14px">31 Dec 2022</div><div class="ln" style="left:137.5px;top:141.15px;font-size:19px">2</div><div class="bt" style="left:231px;top:151px;width:55px"></div><div class="bf" style="left:231px;top:151px;width:1px;background:#7dd5ea"></div><div class="ld" style="left:19.3px;top:186px;font-size:14px">31 Oct 2021</div><div class="ln" style="left:137.5px;top:184px;font-size:19px">17</div><div class="bt" style="left:231px;top:193px;width:55px"></div><div class="bf" style="left:231px;top:193px;width:7px;background:#7b78ea"></div><div class="ld" style="left:19.3px;top:228.85px;font-size:14px">25 Nov 2022</div><div class="ln" style="left:137.5px;top:226.85px;font-size:19px">3</div><div class="bt" style="left:231px;top:236px;width:55px"></div><div class="bf" style="left:231px;top:236px;width:1.5px;background:#d37ae8"></div><div class="ld" style="left:19.3px;top:271.7px;font-size:14px">20 May 2019</div><div class="ln" style="left:137.5px;top:269.7px;font-size:19px">22</div><div class="bt" style="left:231px;top:279px;width:55px"></div><div class="bf" style="left:231px;top:279px;width:9.5px;background:#e87898"></div><div class="ld" style="left:19.3px;top:314.55px;font-size:14px">06 Jan 2023</div><div class="ln" style="left:137.5px;top:312.55px;font-size:19px">3</div><div class="bt" style="left:231px;top:322px;width:55px"></div><div class="bf" style="left:231px;top:322px;width:1.5px;background:#e8b078"></div><div class="ld" style="left:19.3px;top:357.4px;font-size:14px">18 Sep 2021</div><div class="ln" style="left:137.5px;top:355.4px;font-size:19px">1</div><div class="bt" style="left:231px;top:365px;width:55px"></div><div class="bf" style="left:231px;top:365px;width:1px;background:#a2e87a"></div><div class="ld" style="left:19.3px;top:400.25px;font-size:14px">14 Sep 2021</div><div class="ln" style="left:137.5px;top:398.25px;font-size:19px">2</div><div class="bt" style="left:231px;top:408px;width:55px"></div><div class="bf" style="left:231px;top:408px;width:1px;background:#7ae88a"></div><div class="ld" style="left:19.3px;top:443.1px;font-size:14px">17 Sep 2021</div><div class="ln" style="left:137.5px;top:441.1px;font-size:19px">2</div><div class="bt" style="left:231px;top:450px;width:55px"></div><div class="bf" style="left:231px;top:450px;width:1px;background:#7ad8ea"></div><div class="ld" style="left:19.3px;top:485.95px;font-size:14px">25 Aug 2021</div><div class="ln" style="left:137.5px;top:483.95px;font-size:19px">12</div><div class="bt" style="left:231px;top:493px;width:55px"></div><div class="bf" style="left:231px;top:493px;width:5px;background:#7b78ea"></div><div class="ld" style="left:19.3px;top:528.8px;font-size:14px">29 Aug 2021</div><div class="ln" style="left:137.5px;top:526.8px;font-size:19px">9</div><div class="bt" style="left:231px;top:536px;width:55px"></div><div class="bf" style="left:231px;top:536px;width:4px;background:#d878ec"></div></div><svg class="abs" style="left:690.9px;top:439.9px" width="20" height="120.1"><path d="M4.3 11.2L10 2L15.7 11.2Z" fill="#d9d9d9"/><circle cx="10" cy="31.6" r="4.6" fill="#6f7376"/><circle cx="10" cy="50.6" r="3.6" fill="#dcdcde"/><circle cx="10" cy="70.5" r="3.6" fill="#dcdcde"/><circle cx="10" cy="90.6" r="3.6" fill="#dcdcde"/><path d="M4.3 110.1L10 119.4L15.7 110.1Z" fill="#8c8c8c"/></svg><svg class="abs" style="left:1053.8px;top:402.6px" width="20" height="101.4"><path d="M4.3 11.2L10 2L15.7 11.2Z" fill="#d9d9d9"/><circle cx="10" cy="32" r="4.6" fill="#6f7376"/><circle cx="10" cy="50.6" r="3.6" fill="#dcdcde"/><circle cx="10" cy="70.8" r="3.6" fill="#dcdcde"/><path d="M4.3 91.4L10 100.7L15.7 91.4Z" fill="#8c8c8c"/></svg>
<div class="ld" style="left:1127px;top:343px;font-size:15px">No</div>
<div class="ln" style="left:1246px;top:340px;font-size:20px;letter-spacing:0.6px">190</div>
<div class="bt" style="left:1339px;top:349.5px;width:54.6px;height:4px"></div>
<div class="bf" style="left:1339px;top:349.5px;width:44.3px;height:4px;background:#f2281a"></div>
<div class="ld" style="left:1127px;top:386px;font-size:15px">Yes</div>
<div class="ln" style="left:1246px;top:383px;font-size:20px;letter-spacing:0.6px">234</div>
<div class="bf" style="left:1339px;top:392.5px;width:54.6px;height:4px;background:#1f7b0f"></div>

<div class="ld" style="left:1138px;top:552.5px;font-size:17px;line-height:22px">Total</div>
<div class="ld" style="left:1137px;top:573.5px;font-size:29.5px;line-height:36px;color:#555;-webkit-text-stroke:0.3px #555">424</div>
<div class="abs" style="left:1268.5px;top:629px;width:1px;height:77px;background:#e3e3e3"></div>
<div class="ln" style="left:1168px;top:637px;font-size:15px;line-height:22px;color:#777;-webkit-text-stroke:0">Yes</div>
<div class="ln" style="left:1168px;top:657px;font-size:21px;line-height:28px">384</div>
<div class="bt" style="left:1124px;top:690.8px;width:122.6px;height:4px"></div>
<div class="bf" style="left:1135.5px;top:690.8px;width:111px;height:4px;background:#1f7b0f"></div>
<div class="ld" style="left:1290px;top:637px;font-size:15px;line-height:22px;color:#777">No</div>
<div class="ld" style="left:1290.3px;top:657px;font-size:21px;line-height:28px;color:#555;-webkit-text-stroke:0.2px #555">40</div>
<div class="bt" style="left:1291.3px;top:690.8px;width:123.5px;height:4px"></div>
<div class="bf" style="left:1291.3px;top:690.8px;width:11.6px;height:4px;background:#f2281a"></div>
</div></body></html>
